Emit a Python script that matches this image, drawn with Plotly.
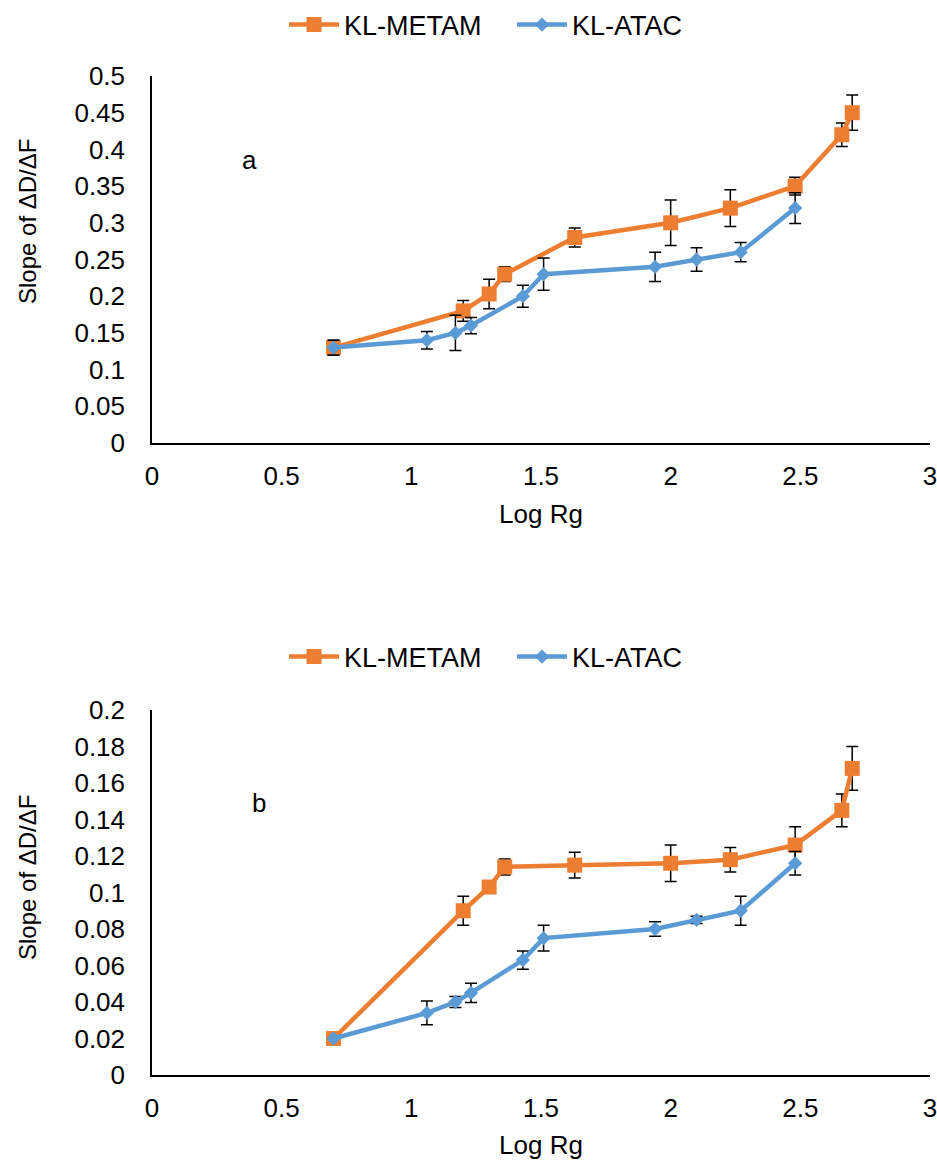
import plotly.graph_objects as go

# Log Rg positions of each series
log_rg_metam = [0.70, 1.20, 1.30, 1.36, 1.63, 2.00, 2.23, 2.48, 2.66, 2.70]
log_rg_atac = [0.70, 1.06, 1.17, 1.23, 1.43, 1.51, 1.94, 2.10, 2.27, 2.48]

# Panel a: slopes and error bars
metam_a = [0.13, 0.18, 0.203, 0.23, 0.28, 0.30, 0.32, 0.35, 0.42, 0.45]
metam_a_err = [0.010, 0.014, 0.020, 0.010, 0.013, 0.031, 0.025, 0.012, 0.016, 0.024]
atac_a = [0.13, 0.14, 0.15, 0.16, 0.20, 0.23, 0.24, 0.25, 0.26, 0.32]
atac_a_err = [0.010, 0.012, 0.024, 0.011, 0.015, 0.022, 0.020, 0.016, 0.013, 0.021]

# Panel b: slopes and error bars
metam_b = [0.02, 0.09, 0.103, 0.114, 0.115, 0.116, 0.118, 0.126, 0.145, 0.168]
metam_b_err = [0.0, 0.008, 0.0, 0.0044, 0.007, 0.010, 0.0067, 0.010, 0.009, 0.012]
atac_b = [0.02, 0.034, 0.040, 0.045, 0.063, 0.075, 0.080, 0.085, 0.090, 0.116]
atac_b_err = [0.0, 0.0065, 0.003, 0.0053, 0.005, 0.007, 0.004, 0.002, 0.008, 0.0064]

x_ticks = [0, 0.5, 1, 1.5, 2, 2.5, 3]
x_tick_text = ["0", "0.5", "1", "1.5", "2", "2.5", "3"]
y_ticks_a = [0, 0.05, 0.1, 0.15, 0.2, 0.25, 0.3, 0.35, 0.4, 0.45, 0.5]
y_tick_text_a = ["0", "0.05", "0.1", "0.15", "0.2", "0.25", "0.3", "0.35", "0.4", "0.45", "0.5"]
y_ticks_b = [0, 0.02, 0.04, 0.06, 0.08, 0.1, 0.12, 0.14, 0.16, 0.18, 0.2]
y_tick_text_b = ["0", "0.02", "0.04", "0.06", "0.08", "0.1", "0.12", "0.14", "0.16", "0.18", "0.2"]

ORANGE = "#ED7D31"
BLUE = "#5B9BD5"
FONT = "Liberation Sans, Arial, sans-serif"
TXT = "#000000"
W, H = 937, 1160


def px_x(p):
    return p / W


def px_y(p):
    return 1 - p / H


def err(values):
    return dict(type="data", array=values, visible=True, color="#000000",
                thickness=1.5, width=6)


fig = go.Figure()

panels = [
    ("x", "y", "legend", metam_a, metam_a_err, atac_a, atac_a_err),
    ("x2", "y2", "legend2", metam_b, metam_b_err, atac_b, atac_b_err),
]
for xa, ya, lg, m, me, a, ae in panels:
    fig.add_trace(go.Scatter(
        x=log_rg_metam, y=m, error_y=err(me), name="KL-METAM",
        mode="lines+markers", xaxis=xa, yaxis=ya, legend=lg,
        line=dict(color=ORANGE, width=4.5),
        marker=dict(symbol="square", size=15, color=ORANGE),
    ))
    fig.add_trace(go.Scatter(
        x=log_rg_atac, y=a, error_y=err(ae), name="KL-ATAC",
        mode="lines+markers", xaxis=xa, yaxis=ya, legend=lg,
        line=dict(color=BLUE, width=4.5),
        marker=dict(symbol="diamond", size=11, color=BLUE),
    ))

axis_common = dict(
    showgrid=False, zeroline=False, showline=True, linecolor="#000000",
    linewidth=1.5, ticks="", ticklabeloverflow="allow",
    tickfont=dict(family=FONT, size=26, color=TXT),
)
x_title = dict(text="Log Rg", standoff=15, font=dict(family=FONT, size=26, color=TXT))

legend_common = dict(orientation="h", xanchor="left", yanchor="middle",
                     font=dict(family=FONT, size=27, color=TXT),
                     bgcolor="rgba(0,0,0,0)", itemwidth=50,
                     entrywidth=163)

fig.update_layout(
    width=W, height=H,
    margin=dict(l=0, r=0, t=0, b=0, autoexpand=False),
    paper_bgcolor="white", plot_bgcolor="white",
    font=dict(family=FONT, size=26, color=TXT),
    xaxis=dict(domain=[px_x(152), px_x(930)], range=[0, 3], anchor="y",
               tickvals=x_ticks, ticktext=x_tick_text, ticklabelstandoff=9,
               title=x_title, **axis_common),
    yaxis=dict(domain=[px_y(443), px_y(76)], range=[0, 0.5], anchor="x",
               tickvals=y_ticks_a, ticktext=y_tick_text_a, ticklabelstandoff=20,
               **axis_common),
    xaxis2=dict(domain=[px_x(152), px_x(930)], range=[0, 3], anchor="y2",
                tickvals=x_ticks, ticktext=x_tick_text, ticklabelstandoff=9,
                title=x_title, **axis_common),
    yaxis2=dict(domain=[px_y(1075), px_y(710)], range=[0, 0.2], anchor="x2",
                tickvals=y_ticks_b, ticktext=y_tick_text_b, ticklabelstandoff=20,
                **axis_common),
    legend=dict(x=px_x(284), y=px_y(25), **legend_common),
    legend2=dict(x=px_x(284), y=px_y(657), **legend_common),
    showlegend=True,
)

annotations = [
    dict(text="Slope of ΔD/ΔF", x=px_x(27), y=px_y(222), textangle=-90, size=24),
    dict(text="Slope of ΔD/ΔF", x=px_x(27), y=px_y(878), textangle=-90, size=24),
    dict(text="a", x=px_x(249), y=px_y(160), size=26),
    dict(text="b", x=px_x(259), y=px_y(803), size=26),
]
for ann in annotations:
    size = ann.pop("size")
    fig.add_annotation(xref="paper", yref="paper", showarrow=False,
                       xanchor="center", yanchor="middle",
                       font=dict(family=FONT, size=size, color=TXT), **ann)

fig.write_html("out.html")
